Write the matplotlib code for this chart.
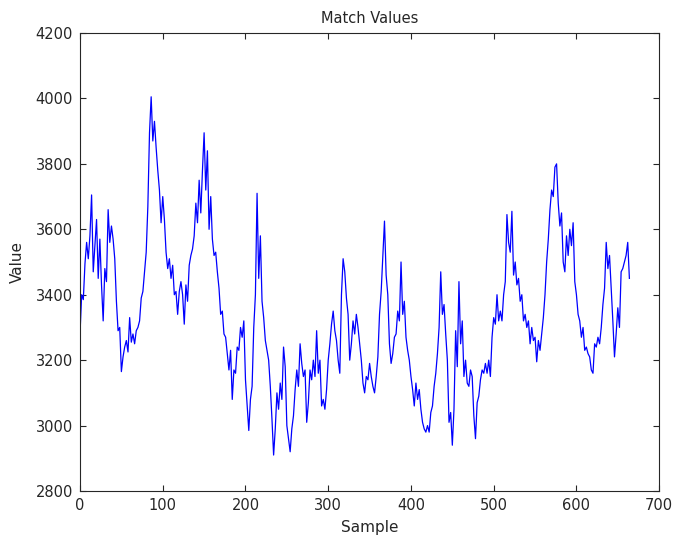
import matplotlib.pyplot as plt
import numpy as np

# match value per sample (every second sample)
values = [
    3280, 3400, 3385, 3495, 3560, 3510, 3580, 3705, 3470, 3550,
    3630, 3450, 3570, 3430, 3320, 3480, 3440, 3660, 3560, 3610,
    3570, 3510, 3380, 3290, 3300, 3165, 3210, 3240, 3260, 3225,
    3330, 3255, 3280, 3250, 3290, 3300, 3320, 3390, 3410, 3470,
    3530, 3670, 3895, 4005, 3870, 3930, 3850, 3780, 3720, 3620,
    3700, 3630, 3530, 3480, 3510, 3450, 3490, 3400, 3410, 3340,
    3410, 3440, 3400, 3310, 3430, 3380, 3490, 3520, 3540, 3580,
    3680, 3620, 3750, 3650, 3780, 3895, 3720, 3840, 3600, 3700,
    3570, 3520, 3530, 3470, 3420, 3340, 3350, 3280, 3270, 3220,
    3170, 3230, 3080, 3170, 3160, 3240, 3230, 3300, 3270, 3320,
    3140, 3060, 2985, 3080, 3120, 3300, 3400, 3710, 3450, 3580,
    3380, 3330, 3260, 3230, 3200, 3120, 3020, 2910, 2990, 3100,
    3050, 3130, 3080, 3240, 3180, 3000, 2960, 2920, 2990, 3030,
    3110, 3170, 3120, 3250, 3190, 3150, 3170, 3010, 3070, 3170,
    3140, 3200, 3150, 3290, 3160, 3200, 3060, 3080, 3050, 3110,
    3200, 3250, 3310, 3350, 3290, 3260, 3200, 3160, 3400, 3510,
    3470, 3390, 3340, 3200, 3250, 3320, 3280, 3340, 3300, 3250,
    3200, 3130, 3100, 3150, 3140, 3190, 3150, 3120, 3100, 3150,
    3210, 3340, 3410, 3520, 3625, 3460, 3400, 3250, 3190, 3220,
    3270, 3280, 3350, 3320, 3500, 3340, 3380, 3270, 3230, 3200,
    3150, 3110, 3060, 3130, 3080, 3110, 3050, 3010, 2990, 2980,
    3000, 2980, 3040, 3060, 3120, 3160, 3220, 3300, 3470, 3340,
    3370, 3280, 3200, 3010, 3040, 2940, 3050, 3290, 3180, 3440,
    3250, 3320, 3150, 3200, 3130, 3120, 3170, 3150, 3030, 2960,
    3070, 3090, 3140, 3170, 3160, 3190, 3160, 3200, 3150, 3270,
    3330, 3310, 3400, 3320, 3350, 3320, 3400, 3440, 3645, 3560,
    3530, 3655, 3460, 3500, 3430, 3450, 3380, 3400, 3320, 3340,
    3300, 3320, 3250, 3300, 3260, 3270, 3195, 3260, 3230, 3280,
    3330, 3400, 3500, 3570, 3660, 3720, 3700, 3790, 3800, 3680,
    3610, 3650, 3500, 3470, 3580, 3520, 3600, 3550, 3620, 3440,
    3400, 3340, 3320, 3270, 3300, 3230, 3240, 3220, 3210, 3170,
    3160, 3250, 3240, 3270, 3250, 3300, 3370, 3420, 3560, 3480,
    3520, 3420, 3320, 3210, 3280, 3360, 3300, 3470, 3480, 3500,
    3520, 3560, 3450,
]
samples = np.arange(0, 2 * len(values), 2)

x_ticks = [0, 100, 200, 300, 400, 500, 600, 700]
y_ticks = [2800, 3000, 3200, 3400, 3600, 3800, 4000, 4200]

plt.rcParams['font.family'] = ['DejaVu Sans']

fig = plt.figure(figsize=(6.74, 5.41), dpi=100)
ax = fig.add_axes([0.1187, 0.0924, 0.8593, 0.8466])

ax.plot(samples, values, color=(0, 0, 1), linewidth=0.9)

ax.set_xlim(0, 700)
ax.set_ylim(2800, 4200)
ax.set_xticks(x_ticks)
ax.set_yticks(y_ticks)
ax.tick_params(direction='in', top=True, right=True, labelsize=10.5,
               length=4, width=0.8, pad=5, colors='#262626')
for s in ax.spines.values():
    s.set_linewidth(0.8)
    s.set_color('#262626')

ax.set_title('Match Values', fontsize=10.5, pad=7, color='#262626')
ax.set_xlabel('Sample', fontsize=11, labelpad=5, color='#262626')
ax.set_ylabel('Value', fontsize=11, labelpad=8, color='#262626')

fig.savefig('out.png', dpi=100)
